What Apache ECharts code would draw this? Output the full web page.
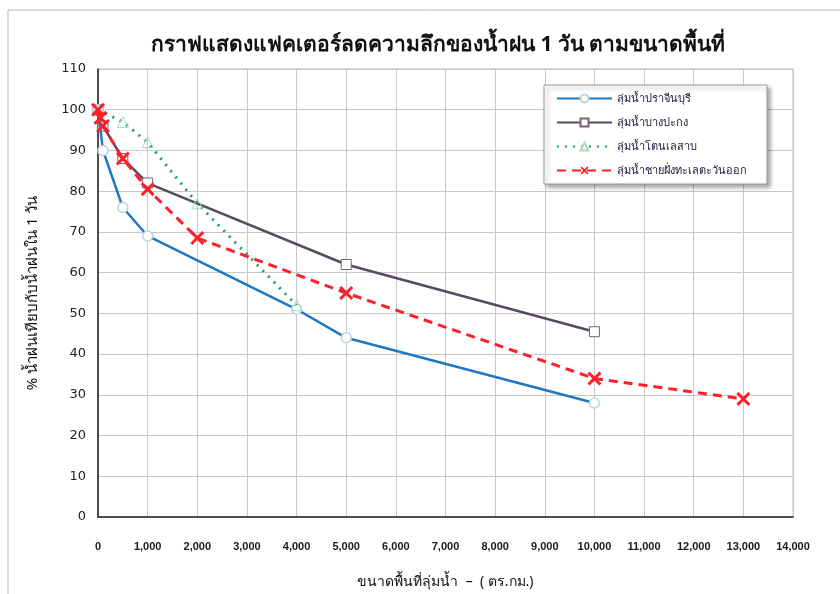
<!DOCTYPE html>
<html>
<head>
<meta charset="utf-8">
<script src="https://cdn.jsdelivr.net/npm/echarts@6/dist/echarts.min.js"></script>
<style>
  html, body { margin: 0; padding: 0; background: #fff; }
  #chart { width: 840px; height: 594px; }
</style>
</head>
<body>
<div id="chart"></div>
<script>
// Catchment area (sq. km) and 1-day rainfall reduction factor (%)
const prachinArea = [0, 100, 500, 1000, 4000, 5000, 10000];
const prachinPct  = [100, 90, 76, 69, 51, 44, 28];

const bangpakongArea = [0, 100, 500, 1000, 5000, 10000];
const bangpakongPct  = [100, 96, 88, 82, 62, 45.5];

const tonleArea = [0, 500, 1000, 2000, 4000];
const tonlePct  = [100, 97, 92, 77, 52];

const eastArea = [0, 50, 100, 500, 1000, 2000, 5000, 10000, 13000];
const eastPct  = [100, 98, 96, 88, 80.5, 68.5, 55, 34, 29];

const seriesNames = [
  'ลุ่มน้ำปราจีนบุรี',
  'ลุ่มน้ำบางปะกง',
  'ลุ่มน้ำโตนเลสาบ',
  'ลุ่มน้ำชายฝั่งทะเลตะวันออก'
];

const xTicks = [0, 1000, 2000, 3000, 4000, 5000, 6000, 7000, 8000, 9000, 10000, 11000, 12000, 13000, 14000];
const yTicks = [0, 10, 20, 30, 40, 50, 60, 70, 80, 90, 100, 110];

const zip = (xs, ys) => xs.map((x, i) => [x, ys[i]]);

const FONT = 'Tahoma, "Noto Sans", "DejaVu Sans", sans-serif';
const crossPath = 'path://M1.5,0L5,3.5L8.5,0L10,1.5L6.5,5L10,8.5L8.5,10L5,6.5L1.5,10L0,8.5L3.5,5L0,1.5Z';

const chart = echarts.init(document.getElementById('chart'));
chart.setOption({
  backgroundColor: '#ffffff',
  animation: false,
  textStyle: { fontFamily: FONT },
  graphic: [{
    type: 'rect',
    shape: { x: 8, y: 10, width: 840, height: 600 },
    style: { fill: 'none', stroke: '#b8b8b8', lineWidth: 1 },
    z: -1
  }],
  title: {
    text: 'กราฟแสดงแฟคเตอร์ลดความลึกของน้ำฝน 1 วัน ตามขนาดพื้นที่',
    left: 146,
    top: 30,
    textStyle: { fontFamily: FONT, fontSize: 21, fontWeight: 'bold', color: '#111' }
  },
  legend: {
    orient: 'vertical',
    left: 544,
    top: 85,
    width: 236,
    padding: [8, 20, 8, 12],
    itemGap: 13,
    itemWidth: 55,
    itemHeight: 10,
    backgroundColor: '#fff',
    borderColor: '#9a9a9a',
    borderWidth: 1,
    shadowColor: 'rgba(0,0,0,0.35)',
    shadowBlur: 4,
    shadowOffsetX: 3,
    shadowOffsetY: 3,
    textStyle: { fontFamily: FONT, fontSize: 11, color: '#1a1a3a', width: 150 },
    data: seriesNames
  },
  grid: {
    left: 98, right: 47, top: 69, bottom: 75,
    show: true, borderColor: '#bdbdbd', borderWidth: 1
  },
  xAxis: {
    type: 'value',
    min: 0, max: 14000, interval: 1000,
    name: 'ขนาดพื้นที่ลุ่มน้ำ  –  ( ตร.กม.)',
    nameLocation: 'middle',
    nameGap: 58,
    nameTextStyle: { fontFamily: FONT, fontSize: 14, color: '#111' },
    axisLine: { show: true, lineStyle: { color: '#222', width: 1.5 } },
    axisTick: { show: false },
    axisLabel: {
      fontFamily: '"Liberation Sans", Arial, sans-serif', fontSize: 11, fontWeight: 'bold',
      color: '#1a1a1a', margin: 24,
      formatter: v => v.toLocaleString('en-US')
    },
    splitLine: { show: true, lineStyle: { color: '#c8c8c8' } }
  },
  yAxis: {
    type: 'value',
    min: 0, max: 110, interval: 10,
    name: '% น้ำฝนเทียบกับน้ำฝนใน 1 วัน',
    nameLocation: 'middle',
    nameGap: 58,
    nameRotate: 90,
    nameTextStyle: { fontFamily: FONT, fontSize: 15, color: '#111' },
    axisLine: { show: true, lineStyle: { color: '#222', width: 1.5 } },
    axisTick: { show: false },
    axisLabel: { fontFamily: '"DejaVu Sans", sans-serif', fontSize: 13, color: '#222', margin: 12 },
    splitLine: { show: true, lineStyle: { color: '#c8c8c8' } }
  },
  series: [
    {
      name: seriesNames[0], type: 'line',
      data: zip(prachinArea, prachinPct),
      symbol: 'circle', symbolSize: 10,
      lineStyle: { color: '#1f78c1', width: 2.5 },
      itemStyle: { color: '#ffffff', borderColor: '#b9d3ea', borderWidth: 1.5 },
      z: 3
    },
    {
      name: seriesNames[1], type: 'line',
      data: zip(bangpakongArea, bangpakongPct),
      symbol: 'rect', symbolSize: 10,
      lineStyle: { color: '#574b61', width: 2.5 },
      itemStyle: { color: '#ffffff', borderColor: '#6e6577', borderWidth: 1 },
      z: 2
    },
    {
      name: seriesNames[2], type: 'line',
      data: zip(tonleArea, tonlePct),
      symbol: 'triangle', symbolSize: 11,
      lineStyle: { color: '#19a15c', width: 3, type: [2, 6] },
      itemStyle: { color: 'rgba(255,255,255,0)', borderColor: '#a8dcbf', borderWidth: 1 },
      z: 4
    },
    {
      name: seriesNames[3], type: 'line',
      data: zip(eastArea, eastPct),
      symbol: crossPath, symbolSize: 14,
      lineStyle: { color: '#ff1f2a', width: 3, type: [9, 6] },
      itemStyle: { color: '#ff1f2a' },
      z: 5
    }
  ]
});
</script>
</body>
</html>
